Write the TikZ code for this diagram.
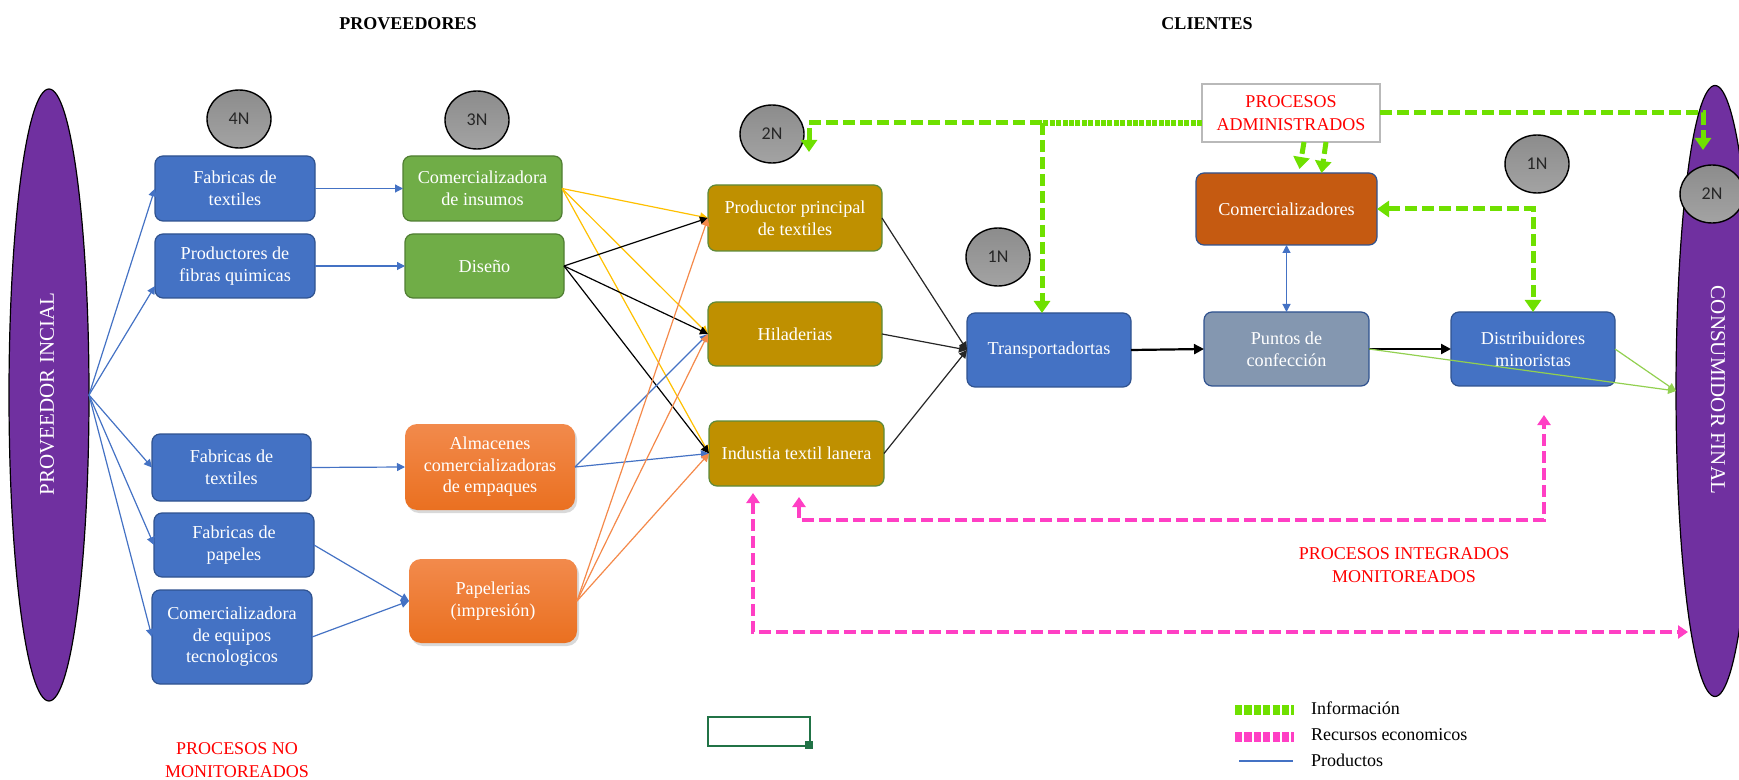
\documentclass[tikz,border=0pt]{standalone}
\usepackage{fontspec}
\setmainfont{Liberation Serif}
\newfontfamily\circfont{Carlito}
\usetikzlibrary{arrows.meta,shapes.geometric,shadows,calc}

\definecolor{boxblue}{HTML}{4472C4}
\definecolor{boxblueline}{HTML}{2F528F}
\definecolor{boxgreen}{HTML}{70AD47}
\definecolor{boxgreenline}{HTML}{507E32}
\definecolor{boxgold}{HTML}{BF9000}
\definecolor{boxgoldline}{HTML}{5E8A3A}
\definecolor{boxorange}{HTML}{EA7020}
\definecolor{boxorangetop}{HTML}{F28A4C}
\definecolor{boxrust}{HTML}{C55A11}
\definecolor{boxslate}{HTML}{8497B0}
\definecolor{purp}{HTML}{7030A0}
\definecolor{infogreen}{HTML}{6FE000}
\definecolor{moneypink}{HTML}{FF3FC4}
\definecolor{linkyellow}{HTML}{FFC000}
\definecolor{linkorange}{HTML}{F4894A}
\definecolor{linklime}{HTML}{92D050}
\definecolor{cellgreen}{HTML}{217346}
\definecolor{ballgray}{HTML}{8C8C8C}
\definecolor{balllight}{HTML}{A3A3A3}

\begin{document}
\begin{tikzpicture}[x=0.5pt,y=-0.5pt,
  every node/.style={inner sep=0pt, outer sep=0pt},
  card/.style={rounded corners=4pt, draw, line width=0.6pt, text=white,
    align=center, font=\fontsize{9.1}{10.8}\selectfont},
  bluecard/.style={card, fill=boxblue, draw=boxblueline},
  greencard/.style={card, fill=boxgreen, draw=boxgreenline},
  goldcard/.style={card, fill=boxgold, draw=boxgoldline},
  orangecard/.style={card, rounded corners=6pt, draw=none,
    top color=boxorangetop, bottom color=boxorange,
    drop shadow={shadow xshift=1pt, shadow yshift=-1.5pt, opacity=0.3}},
  ball/.style={ellipse, draw=black, line width=0.7pt, top color=ballgray,
    bottom color=balllight, minimum width=32pt, minimum height=29pt,
    text=black!85, font=\circfont\fontsize{9}{10}\selectfont},
  pillar/.style={ellipse, fill=purp, draw=black, line width=0.6pt},
  pillartext/.style={text=white, font=\fontsize{10.5}{12}\selectfont},
  heading/.style={font=\bfseries\fontsize{9}{11}\selectfont},
  redtext/.style={text=red, align=center, font=\fontsize{9}{11.5}\selectfont},
  prod/.style={line width=0.6pt, -{Triangle[length=4pt,width=4pt]}},
  info/.style={infogreen, line width=2.5pt, dash pattern=on 6pt off 2.5pt},
  infodots/.style={infogreen, line width=2.8pt, dash pattern=on 2.5pt off 0.7pt},
  infotip/.style={-{Triangle[length=6pt,width=8pt]}},
  money/.style={moneypink, line width=2pt, dash pattern=on 6pt off 2.5pt,
    {Triangle[length=5pt,width=6.5pt]}-{Triangle[length=5pt,width=6.5pt]}},
  legendtext/.style={anchor=west, font=\fontsize{9}{11}\selectfont}
]
\useasboundingbox (0,0) rectangle (1739,780);

% headings
\node[heading] (hprov) at (408,24) {PROVEEDORES};
\node[heading] (hcli) at (1207,24) {CLIENTES};

% end points of the chain
\node[pillar, minimum width=40pt, minimum height=306pt] (src) at (49,395) {};
\node[pillartext, rotate=90] (srct) at (47,394) {PROVEEDOR INCIAL};
\node[pillar, minimum width=39pt, minimum height=305.5pt] (sink) at (1715,391) {};
\node[pillartext, rotate=-90] (sinkt) at (1718,390) {CONSUMIDOR FINAL};

% tier markers
\node[ball] (n4) at (239,119) {4N};
\node[ball] (n3) at (477,120) {3N};
\node[ball] (n2a) at (772,134) {2N};
\node[ball] (n1a) at (998,257) {1N};
\node[ball] (n1b) at (1537,164) {1N};
\node[ball] (n2b) at (1712,194) {2N};

% fourth tier suppliers
\node[bluecard, minimum width=80pt, minimum height=32.5pt] (b1) at (235,188.5) {Fabricas de\\textiles};
\node[bluecard, minimum width=80pt, minimum height=32pt] (b2) at (235,266) {Productores de\\fibras quimicas};
\node[bluecard, minimum width=79.5pt, minimum height=33.5pt] (b3) at (231.5,467.5) {Fabricas de\\textiles};
\node[bluecard, minimum width=80pt, minimum height=32pt] (b4) at (234,545) {Fabricas de\\papeles};
\node[bluecard, minimum width=80pt, minimum height=47pt] (b5) at (232,637) {Comercializadora\\de equipos\\tecnologicos};

% third tier suppliers
\node[greencard, minimum width=79.5pt, minimum height=32.5pt] (g1) at (482.5,188.5) {Comercializadora\\de insumos};
\node[greencard, minimum width=79.5pt, minimum height=32pt] (g2) at (484.5,266) {Diseño};
\node[orangecard, minimum width=85pt, minimum height=43pt] (o1) at (490,467) {Almacenes\\comercializadoras\\de empaques};
\node[orangecard, minimum width=84pt, minimum height=42pt] (o2) at (493,601) {Papelerias\\(impresión)};

% second tier producers
\node[goldcard, minimum width=87pt, minimum height=33pt] (y1) at (795,218) {Productor principal\\de textiles};
\node[goldcard, minimum width=87pt, minimum height=32pt] (y2) at (795,334) {Hiladerias};
\node[goldcard, minimum width=87.5pt, minimum height=32.5pt] (y3) at (796.5,453.5) {Industia textil lanera};

% customers
\node[bluecard, minimum width=82pt, minimum height=37pt] (tr) at (1049,350) {Transportadortas};
\node[card, fill=boxslate, draw=boxblueline, minimum width=82.5pt, minimum height=37pt] (pc) at (1286.5,349) {Puntos de\\confección};
\node[bluecard, minimum width=82pt, minimum height=37pt] (dm) at (1533,349) {Distribuidores\\minoristas};
\node[card, fill=boxrust, draw=boxblueline, minimum width=90.5pt, minimum height=36pt] (cm) at (1286.5,209) {Comercializadores};
\node[draw=gray!55, fill=white, line width=0.6pt, minimum width=89pt, minimum height=29pt, redtext] (pa) at (1291,113) {PROCESOS\\ADMINISTRADOS};

% product flow out of the initial supplier
\draw[prod, boxblue] (src.east) -- (b1.west);
\draw[prod, boxblue] (src.east) -- ([yshift=-10pt]b2.west);
\draw[prod, boxblue] (src.east) -- (b3.west);
\draw[prod, boxblue] (src.east) -- (b4.west);
\draw[prod, boxblue] (src.east) -- (b5.west);

% fourth to third tier
\draw[prod, boxblue] (b1.east) -- (g1.west);
\draw[prod, boxblue] (b2.east) -- (g2.west);
\draw[prod, boxblue] (b3.east) -- (o1.west);
\draw[prod, boxblue] (b4.east) -- (o2.west);
\draw[prod, boxblue] (b5.east) -- (o2.west);

% third to second tier
\draw[prod, linkyellow] (g1.east) -- (y1.west);
\draw[prod, linkyellow] (g1.east) -- (y2.west);
\draw[prod, linkyellow] (g1.east) -- (y3.west);
\draw[prod, black] (g2.east) -- (y1.west);
\draw[prod, black] (g2.east) -- (y2.west);
\draw[prod, black] (g2.east) -- (y3.west);
\draw[prod, boxblue] (o1.east) -- (y2.west);
\draw[prod, boxblue] (o1.east) -- (y3.west);
\draw[prod, linkorange] (o2.east) -- (y1.west);
\draw[prod, linkorange] (o2.east) -- (y2.west);
\draw[prod, linkorange] (o2.east) -- (y3.west);

% second tier to customers
\draw[prod, black!85] (y1.east) -- (tr.west);
\draw[prod, black!85] (y2.east) -- (tr.west);
\draw[prod, black!85] (y3.east) -- (tr.west);
\draw[black, line width=1.1pt, -{Triangle[length=5pt,width=5pt]}] (tr.east) -- (pc.west);
\draw[black, line width=1.1pt, -{Triangle[length=5pt,width=5pt]}] (pc.east) -- (dm.west);
\draw[boxblue, line width=0.6pt, {Triangle[length=4pt,width=4pt]}-{Triangle[length=4pt,width=4pt]}] (cm.south) -- (pc.north);
\draw[prod, linklime] (pc.east) -- (sink.west);
\draw[prod, linklime] (dm.east) -- (sink.west);

% information flow
\coordinate (ijn) at (1042,123);
\coordinate (ileft) at (809,123);
\coordinate (iright) at (1703,113);
\draw[infodots] (pa.west |- ijn) -- (ijn);
\draw[info, infotip] (ijn) -- (ileft) -- ++(0,29);
\draw[info, infotip] (ijn) -- (ijn |- tr.north);
\draw[info, infotip] (pa.east) -- (iright) -- ++(0,37);
\draw[info, infotip] ($(pa.south)+(13,0)$) -- ($(cm.north)+(13,-4)$);
\draw[info, infotip] ($(pa.south)+(35,0)$) -- ($(cm.north)+(35,0)$);
\draw[info, {Triangle[length=6pt,width=8pt]}-{Triangle[length=6pt,width=8pt]}] (cm.east) -- (dm.north |- cm.east) -- (dm.north);

% economic resources
\coordinate (m1a) at (753,493);
\coordinate (m1b) at (753,632);
\coordinate (m1c) at (1688,632);
\coordinate (m2a) at (799,497);
\coordinate (m2b) at (799,520);
\coordinate (m2c) at (1544,520);
\coordinate (m2d) at (1544,415);
\draw[money] (m1a) -- (m1b) -- (m1c);
\draw[money] (m2a) -- (m2b) -- (m2c) -- (m2d);

% region labels
\node[redtext] (lnm) at (237,760) {PROCESOS NO\\MONITOREADOS};
\node[redtext] (lim) at (1404,565) {PROCESOS INTEGRADOS\\MONITOREADOS};

% selected cell outline
\draw[cellgreen, line width=1.2pt] (708,717) rectangle (810,746);
\fill[cellgreen] (805,741) rectangle (813,749);

% legend
\draw[infogreen, line width=5pt, dash pattern=on 3.6pt off 1.1pt] (1235,710) -- (1294,710);
\draw[moneypink, line width=5pt, dash pattern=on 3.6pt off 1.1pt] (1235,737) -- (1294,737);
\draw[boxblue, line width=1.2pt] (1239,761) -- (1293,761);
\node[legendtext] (lg1) at (1311,708) {Información};
\node[legendtext] (lg2) at (1311,735) {Recursos economicos};
\node[legendtext] (lg3) at (1311,760) {Productos};
\end{tikzpicture}
\end{document}
